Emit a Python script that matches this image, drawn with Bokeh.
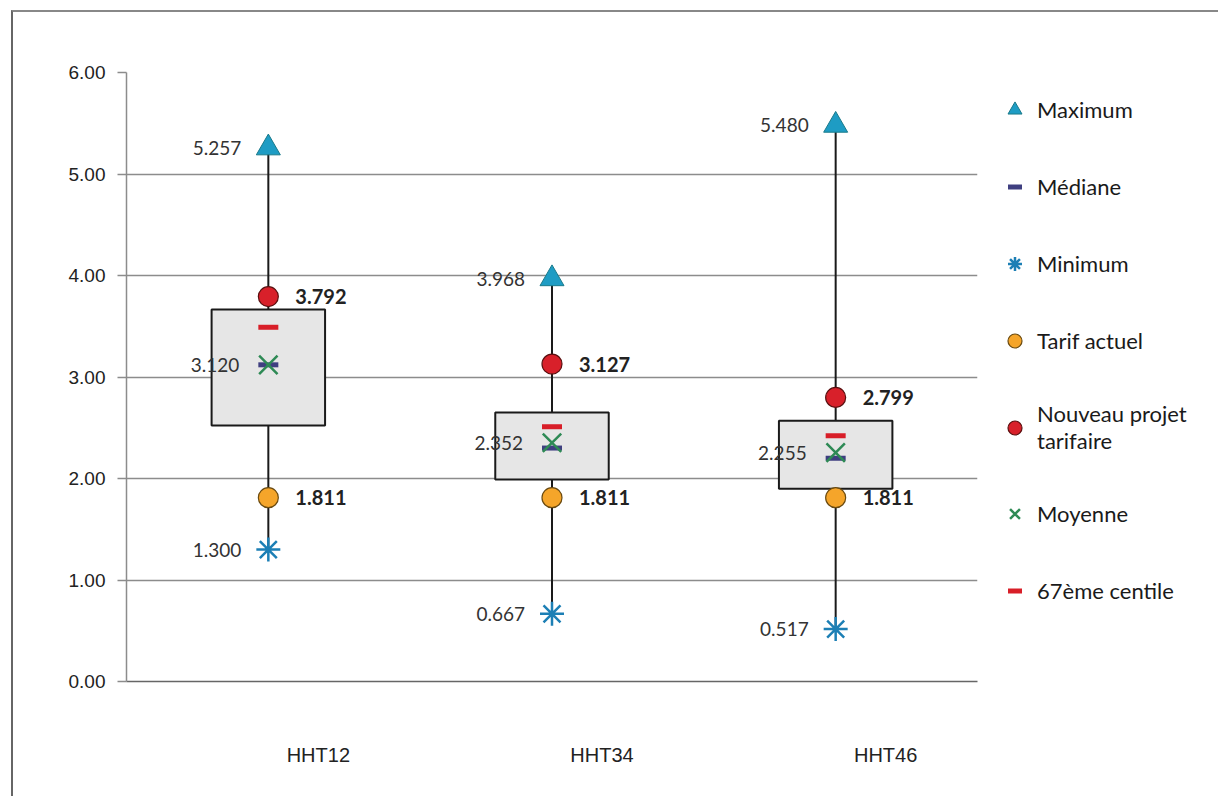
from bokeh.plotting import figure
from bokeh.models import (ColumnDataSource, Range1d, Legend, LegendItem,
                          NumeralTickFormatter, FixedTicker)
from bokeh.core.properties import value
from bokeh.embed import file_html
from bokeh.resources import INLINE

categories = ["HHT12", "HHT34", "HHT46"]
maximum = [5.257, 3.968, 5.480]
minimum = [1.300, 0.667, 0.517]
box_top = [3.665, 2.650, 2.570]
box_bottom = [2.522, 1.990, 1.900]
median = [3.120, 2.300, 2.200]
moyenne = [3.120, 2.352, 2.255]
centile67 = [3.490, 2.510, 2.420]
tarif_actuel = [1.811, 1.811, 1.811]
nouveau_projet = [3.792, 3.127, 2.799]

n = len(categories)
xpos = [i + 0.5 for i in range(n)]  # category slots on a numeric axis

fmt = lambda v: "%.3f" % v
src = ColumnDataSource(dict(
    x=xpos, mx=maximum, mn=minimum, bt=box_top, bb=box_bottom,
    med=median, moy=moyenne, c67=centile67, ta=tarif_actuel, npj=nouveau_projet,
    mx_l=[fmt(v) for v in maximum], mn_l=[fmt(v) for v in minimum],
    moy_l=[fmt(v) for v in moyenne], ta_l=[fmt(v) for v in tarif_actuel],
    npj_l=[fmt(v) for v in nouveau_projet],
))

FW, FH = 851, 609
p = figure(frame_width=FW, frame_height=FH, x_range=Range1d(0, n),
           y_range=Range1d(0, 6), output_backend="svg", toolbar_location=None,
           min_border_left=113, min_border_top=60, min_border_right=0, min_border_bottom=115,
           styles={"border-left": "2px solid #666666", "border-top": "2px solid #888888",
                   "margin-left": "11px", "margin-top": "10px"})
p.outline_line_color = None
p.xgrid.grid_line_color = None
p.ygrid.grid_line_color = "#8c8c8c"
p.ygrid.grid_line_width = 1.5
p.yaxis.ticker = FixedTicker(ticks=[0, 1, 2, 3, 4, 5, 6])
p.yaxis.formatter = NumeralTickFormatter(format="0.00")
p.yaxis.axis_line_color = "#8c8c8c"
p.yaxis.axis_line_width = 1.5
p.yaxis.major_tick_line_color = "#8c8c8c"
p.yaxis.major_tick_line_width = 1.5
p.yaxis.major_tick_out = 9
p.yaxis.major_tick_in = 0
p.yaxis.minor_tick_line_color = None
p.yaxis.major_label_text_font = "Liberation Sans"
p.yaxis.major_label_text_font_size = "19px"
p.yaxis.major_label_text_color = "#222222"
p.yaxis.major_label_standoff = 12

# category labels sit ~50px right of each category centre, as in the reference
label_shift = 50.0 / (FW / n)
label_ticks = [x + label_shift for x in xpos]
p.xaxis.ticker = FixedTicker(ticks=label_ticks)
p.xaxis.major_label_overrides = {t: c for t, c in zip(label_ticks, categories)}
p.xaxis.axis_line_color = "#666666"
p.xaxis.axis_line_width = 1.5
p.xaxis.major_tick_line_color = None
p.xaxis.minor_tick_line_color = None
p.xaxis.major_label_text_font = "Liberation Sans"
p.xaxis.major_label_text_font_size = "20px"
p.xaxis.major_label_text_color = "#222222"
p.xaxis.major_label_standoff = 56

# whisker
p.segment(x0="x", y0="mn", x1="x", y1="mx", source=src, line_color="#1a1a1a", line_width=2)
# box
p.vbar(x="x", top="bt", bottom="bb", width=0.4, source=src, fill_color="#e6e6e6",
       line_color="#1a1a1a", line_width=2)

r_max = p.scatter(x="x", y="mx", source=src, marker="triangle", size=24,
                  fill_color="#1e9cc4", line_color="#1a7a8a", line_width=1)
r_med = p.scatter(x="x", y="med", source=src, marker="dash", size=20,
                  line_color="#3f3f80", line_width=5)
r_min = p.scatter(x="x", y="mn", source=src, marker="asterisk", size=24,
                  line_color="#1c7fb5", line_width=2.5)
r_ta = p.scatter(x="x", y="ta", source=src, marker="circle", size=20,
                 fill_color="#f5a52a", line_color="#6a4a10", line_width=1.2)
r_np = p.scatter(x="x", y="npj", source=src, marker="circle", size=20,
                 fill_color="#d8202a", line_color="#5a1010", line_width=1.2)
r_moy = p.scatter(x="x", y="moy", source=src, marker="x", size=26,
                  line_color="#2e8a55", line_width=2.5)
r_c67 = p.scatter(x="x", y="c67", source=src, marker="dash", size=20,
                  line_color="#d81e28", line_width=5)

lab_font = value("Lato")
p.text(x="x", y="mx", text="mx_l", source=src, x_offset=-27, text_align="right",
       text_baseline="middle", text_font=lab_font, text_font_size="19px", text_color="#333333")
p.text(x="x", y="mn", text="mn_l", source=src, x_offset=-27, text_align="right",
       text_baseline="middle", text_font=lab_font, text_font_size="19px", text_color="#333333")
p.text(x="x", y="moy", text="moy_l", source=src, x_offset=-29, text_align="right",
       text_baseline="middle", text_font=lab_font, text_font_size="19px", text_color="#333333")
p.text(x="x", y="npj", text="npj_l", source=src, x_offset=27, text_align="left",
       text_baseline="middle", text_font=lab_font, text_font_size="20px", text_color="#222222",
       text_font_style="bold")
p.text(x="x", y="ta", text="ta_l", source=src, x_offset=27, text_align="left",
       text_baseline="middle", text_font=lab_font, text_font_size="20px", text_color="#222222",
       text_font_style="bold")

legend = Legend(items=[
    LegendItem(label="Maximum", renderers=[r_max]),
    LegendItem(label="Médiane", renderers=[r_med]),
    LegendItem(label="Minimum", renderers=[r_min]),
    LegendItem(label="Tarif actuel", renderers=[r_ta]),
    LegendItem(label="Nouveau projet\ntarifaire", renderers=[r_np]),
    LegendItem(label="Moyenne", renderers=[r_moy]),
    LegendItem(label="67ème centile", renderers=[r_c67]),
], location="top_left")
legend.border_line_color = None
legend.background_fill_alpha = 0
legend.label_text_font = "Lato"
legend.label_text_font_size = "22px"
legend.label_text_color = "#1a1a1a"
legend.glyph_width = 35
legend.glyph_height = 35
legend.label_height = 24
legend.label_standoff = 5
legend.spacing = 42
legend.margin = 20
legend.padding = 0
p.add_layout(legend, "right")

open("out.html", "w").write(file_html(p, INLINE))
